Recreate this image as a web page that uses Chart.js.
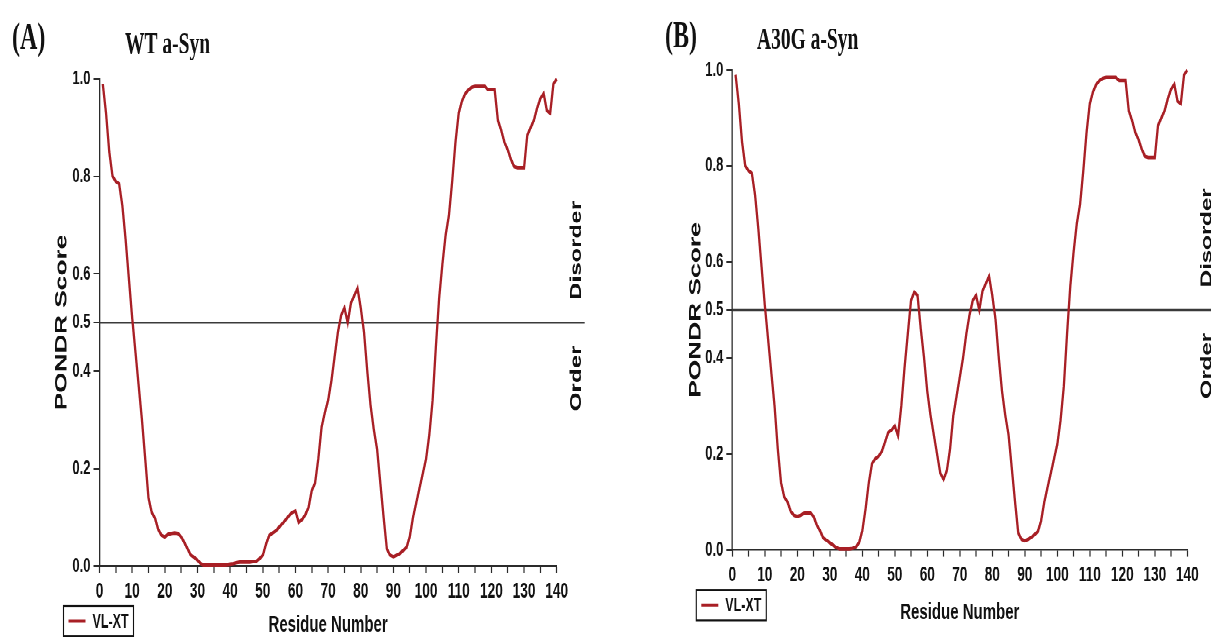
<!DOCTYPE html>
<html>
<head>
<meta charset="utf-8">
<script src="https://cdn.jsdelivr.net/npm/chart.js@4.4.1/dist/chart.umd.min.js"></script>
<style>
  html, body { margin: 0; padding: 0; background: #fff; overflow: hidden; }
  /* the source figure is drawn tall and narrow, so the whole stage is stretched vertically */
  #stage {
    position: absolute; left: 0; top: 0; width: 1211px; height: 411px;
    transform: scaleY(1.55); transform-origin: 0 0;
  }
  #stage canvas { position: absolute; top: 0; }
  #chartA { left: 0; }
  #chartB { left: 605px; }
</style>
</head>
<body>
<div id="stage">
  <canvas id="chartA" width="605" height="411"></canvas>
  <canvas id="chartB" width="606" height="411"></canvas>
</div>
<script>
'use strict';

// residue positions along the sequence
const residues = Array.from({ length: 140 }, (_, i) => i + 1);

// PONDR VL-XT score, wild type
const wtScores = [
  0.99, 0.93, 0.85, 0.80, 0.79, 0.785, 0.74, 0.67, 0.59, 0.51,
  0.44, 0.37, 0.30, 0.22, 0.14, 0.11, 0.098, 0.075, 0.063, 0.06,
  0.065, 0.067, 0.068, 0.067, 0.06, 0.048, 0.035, 0.022, 0.018, 0.012,
  0.005, 0.002, 0.002, 0.002, 0.002, 0.002, 0.002, 0.002, 0.003, 0.004,
  0.005, 0.007, 0.008, 0.008, 0.008, 0.008, 0.009, 0.01, 0.015, 0.022,
  0.045, 0.063, 0.068, 0.072, 0.08, 0.087, 0.095, 0.103, 0.11, 0.113,
  0.09, 0.095, 0.105, 0.12, 0.155, 0.17, 0.22, 0.285, 0.315, 0.34,
  0.38, 0.43, 0.48, 0.515, 0.53, 0.50, 0.54, 0.555, 0.57, 0.53,
  0.48, 0.40, 0.33, 0.28, 0.24, 0.17, 0.10, 0.035, 0.022, 0.019,
  0.022, 0.026, 0.032, 0.038, 0.06, 0.10, 0.13, 0.16, 0.19, 0.22,
  0.27, 0.34, 0.45, 0.55, 0.62, 0.68, 0.72, 0.79, 0.87, 0.93,
  0.955, 0.97, 0.978, 0.983, 0.985, 0.985, 0.985, 0.985, 0.978, 0.978,
  0.978, 0.915, 0.895, 0.87, 0.855, 0.835, 0.82, 0.818, 0.818, 0.818,
  0.885, 0.90, 0.915, 0.94, 0.96, 0.97, 0.935, 0.93, 0.99, 1.0
];

// PONDR VL-XT score, A30G mutant
const a30gScores = [
  0.99, 0.93, 0.85, 0.80, 0.79, 0.785, 0.74, 0.67, 0.59, 0.51,
  0.44, 0.37, 0.30, 0.21, 0.14, 0.11, 0.10, 0.08, 0.072, 0.07,
  0.072, 0.076, 0.077, 0.077, 0.07, 0.052, 0.04, 0.025, 0.02, 0.015,
  0.01, 0.005, 0.002, 0.002, 0.002, 0.002, 0.003, 0.006, 0.015, 0.04,
  0.085, 0.14, 0.18, 0.19, 0.195, 0.205, 0.225, 0.245, 0.25, 0.258,
  0.238, 0.30, 0.38, 0.45, 0.52, 0.537, 0.53, 0.46, 0.40, 0.33,
  0.28, 0.24, 0.20, 0.16, 0.147, 0.165, 0.21, 0.28, 0.32, 0.36,
  0.40, 0.45, 0.49, 0.52, 0.53, 0.50, 0.54, 0.555, 0.57, 0.53,
  0.48, 0.40, 0.33, 0.28, 0.24, 0.17, 0.10, 0.035, 0.022, 0.019,
  0.022, 0.026, 0.032, 0.038, 0.06, 0.10, 0.13, 0.16, 0.19, 0.22,
  0.27, 0.34, 0.45, 0.55, 0.62, 0.68, 0.72, 0.79, 0.87, 0.93,
  0.955, 0.97, 0.978, 0.983, 0.985, 0.985, 0.985, 0.985, 0.978, 0.978,
  0.978, 0.915, 0.895, 0.87, 0.855, 0.835, 0.82, 0.818, 0.818, 0.818,
  0.885, 0.90, 0.915, 0.94, 0.96, 0.97, 0.935, 0.93, 0.99, 1.0
];

const scoreTicks = [0, 0.2, 0.4, 0.5, 0.6, 0.8, 1.0];
const residueRange = [0, 140];
const threshold = 0.5;
const panelLetters = ['(A)', '(B)'];
const panelTitles = ['WT a-Syn', 'A30G a-Syn'];
const zoneLabels = ['Disorder', 'Order'];
const seriesLabel = 'VL-XT';

const LINE_RED = '#a81f25';
const AXIS = '#2b2b2b';
const SANS = '"Liberation Sans", Arial, sans-serif';
const SERIF = '"Liberation Serif", "Times New Roman", serif';

// threshold line, zone labels, panel letter, title and boxed legend
const panelDecor = {
  id: 'panelDecor',
  beforeDatasetsDraw(chart) {
    const { ctx, chartArea, scales } = chart;
    const yt = scales.y.getPixelForValue(threshold);
    ctx.save();
    ctx.strokeStyle = '#3a3a3a';
    ctx.lineWidth = 1.2;
    ctx.beginPath();
    ctx.moveTo(chartArea.left, yt);
    ctx.lineTo(chartArea.right + 28, yt);
    ctx.stroke();
    ctx.restore();
  },
  afterDraw(chart, args, opts) {
    const { ctx, chartArea, scales } = chart;
    const yt = scales.y.getPixelForValue(threshold);
    ctx.save();
    ctx.fillStyle = '#111';

    ctx.font = `bold 15.5px ${SANS}`;
    ctx.textAlign = 'center';
    ctx.textBaseline = 'middle';
    [[zoneLabels[0], yt - 46.5], [zoneLabels[1], yt + 36]].forEach(([text, ty]) => {
      ctx.save();
      ctx.translate(chartArea.right + 20, ty);
      ctx.rotate(-Math.PI / 2);
      ctx.fillText(text, 0, 0);
      ctx.restore();
    });

    ctx.textAlign = 'left';
    ctx.font = `bold 24px ${SERIF}`;
    ctx.fillText(opts.letter, opts.letterX, opts.letterY);
    ctx.font = `bold 19.5px ${SERIF}`;
    ctx.fillText(opts.title, opts.titleX, opts.titleY);

    // legend box under the left end of the x axis
    const ds = chart.data.datasets[0];
    const bx = chartArea.left - 36;
    const by = chartArea.bottom + 25.8;
    const bw = 70;
    const bh = 19.6;
    ctx.strokeStyle = '#111';
    ctx.lineWidth = 1.1;
    ctx.strokeRect(bx, by, bw, bh);
    ctx.strokeStyle = ds.borderColor;
    ctx.lineWidth = 2;
    ctx.beginPath();
    ctx.moveTo(bx + 5, by + bh / 2);
    ctx.lineTo(bx + 22, by + bh / 2);
    ctx.stroke();
    ctx.font = `bold 12.5px ${SANS}`;
    ctx.fillText(ds.label, bx + 29, by + bh / 2 + 0.5);
    ctx.restore();
  }
};

function makePanel(canvasId, scores, geom, idx) {
  const canvas = document.getElementById(canvasId);
  return new Chart(canvas, {
    type: 'line',
    data: {
      datasets: [{
        label: seriesLabel,
        data: residues.map((r, i) => ({ x: r, y: scores[i] })),
        borderColor: LINE_RED,
        borderWidth: 2.3,
        pointRadius: 0,
        tension: 0,
        clip: false
      }]
    },
    options: {
      responsive: false,
      animation: false,
      devicePixelRatio: 2,
      layout: { padding: { top: geom.top, right: geom.right, left: 0, bottom: 0 } },
      plugins: {
        legend: { display: false },
        tooltip: { enabled: false },
        panelDecor: {
          letter: panelLetters[idx],
          title: panelTitles[idx],
          letterX: geom.letterX,
          letterY: geom.letterY,
          titleX: geom.titleX,
          titleY: geom.titleY
        }
      },
      scales: {
        x: {
          type: 'linear',
          min: residueRange[0],
          max: residueRange[1],
          afterFit: (scale) => { scale.height = geom.xAxisHeight; },
          border: { display: true, color: AXIS, width: 1.2 },
          grid: { drawOnChartArea: false, drawTicks: true, tickLength: 4.5, tickColor: AXIS, tickWidth: 1.2 },
          ticks: {
            stepSize: 5,
            autoSkip: false,
            maxRotation: 0,
            padding: 3.8,
            color: '#111',
            font: { family: SANS, size: 13.7, weight: 'bold' },
            callback: (v) => (v % 10 === 0 ? String(v) : '')
          },
          title: {
            display: true,
            text: 'Residue Number',
            color: '#111',
            padding: { top: 0, bottom: geom.xTitlePad },
            font: { family: SANS, size: 15, weight: 'bold', lineHeight: 1 }
          }
        },
        y: {
          min: 0,
          max: 1,
          afterFit: (scale) => { scale.width = geom.left; },
          afterBuildTicks: (scale) => { scale.ticks = scoreTicks.map((v) => ({ value: v })); },
          border: { display: true, color: AXIS, width: 1.3 },
          grid: { drawOnChartArea: false, drawTicks: true, tickLength: 6, tickColor: AXIS, tickWidth: 1 },
          ticks: {
            padding: 3,
            color: '#111',
            font: { family: SANS, size: 13, weight: 'bold' },
            callback: (v) => Number(v).toFixed(1)
          },
          title: {
            display: true,
            text: 'PONDR Score',
            color: '#111',
            padding: { top: geom.yTitlePad, bottom: 0 },
            font: { family: SANS, size: 17, weight: 'bold' }
          }
        }
      }
    },
    plugins: [panelDecor]
  });
}

makePanel('chartA', wtScores, {
  top: 51, right: 48.3, left: 99.5, xAxisHeight: 45.8,
  xTitlePad: 0, yTitlePad: 51.8,
  letterX: 12, letterY: 25.2, titleX: 125, titleY: 29.7
}, 0);

makePanel('chartB', a30gScores, {
  top: 45.2, right: 23.7, left: 127.3, xAxisHeight: 56.2,
  xTitlePad: 8.3, yTitlePad: 80.8,
  letterX: 60, letterY: 24.5, titleX: 152, titleY: 26.5
}, 1);
</script>
</body>
</html>
